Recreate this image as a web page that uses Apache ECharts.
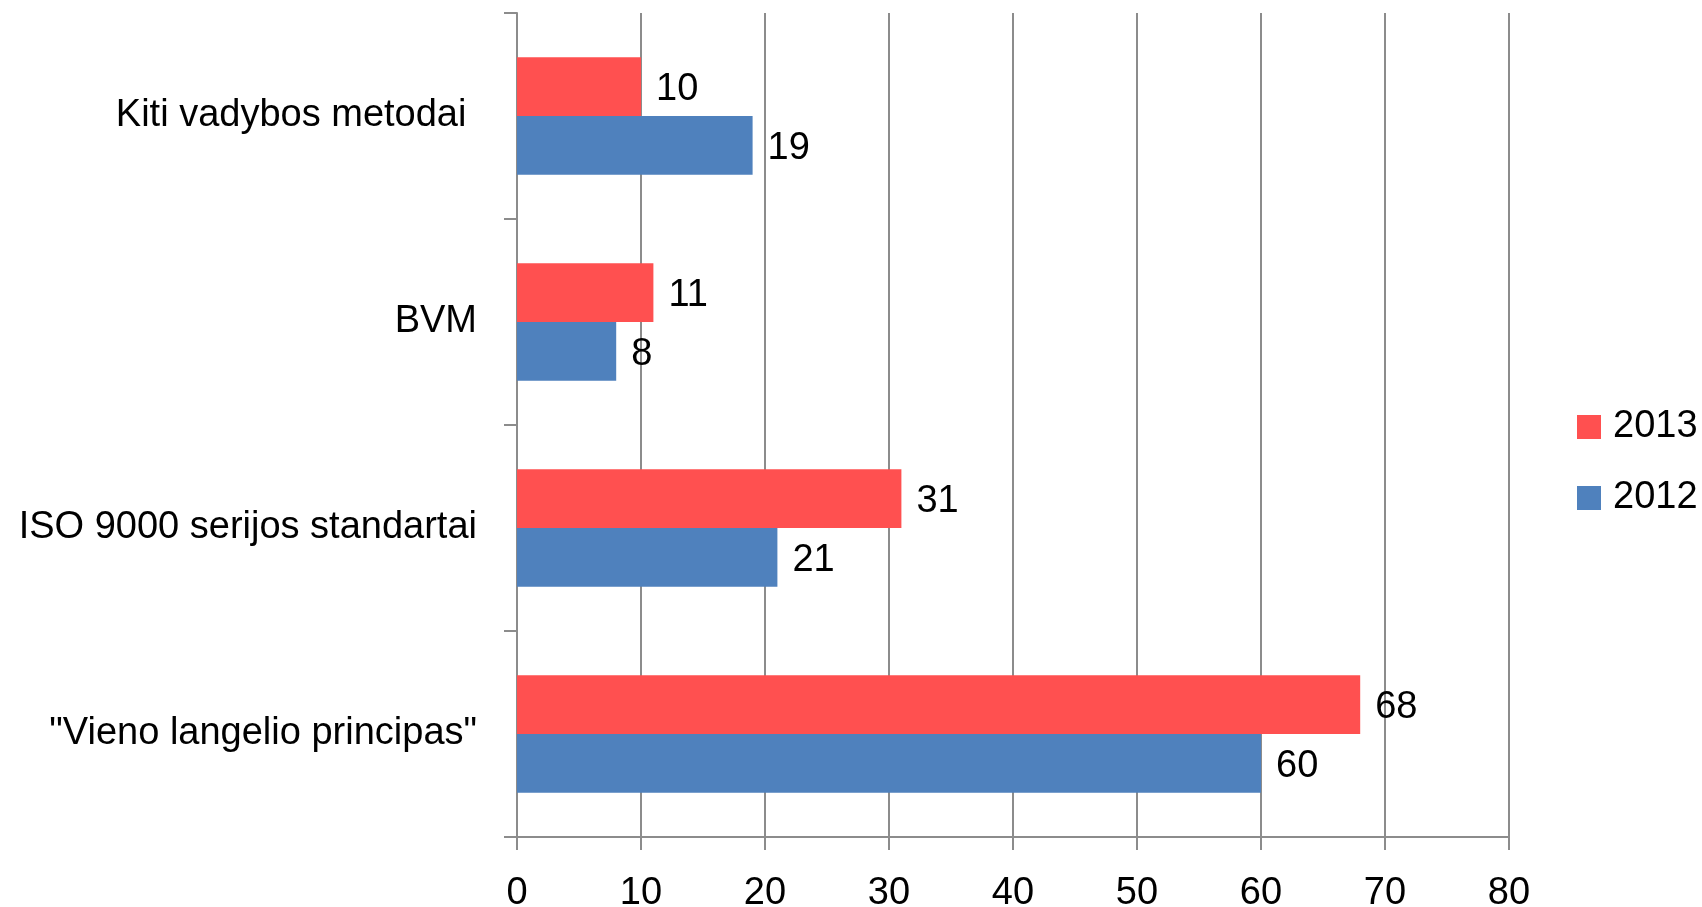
<!DOCTYPE html>
<html>
<head>
<meta charset="utf-8">
<script src="https://cdn.jsdelivr.net/npm/echarts@6/dist/echarts.min.js"></script>
<style>
html,body{margin:0;padding:0;background:#fff;}
#chart{width:1702px;height:907px;}
</style>
</head>
<body>
<div id="chart"></div>
<script>
const categories = ['"Vieno langelio principas"', 'ISO 9000 serijos standartai', 'BVM', 'Kiti vadybos metodai '];
const seriesNames = ['2013', '2012'];
const values2013 = [68, 31, 11, 10];
const values2012 = [60, 21, 8, 19];
const xTicks = { min: 0, max: 80, interval: 10 };

const FONT = 'Liberation Sans';
const GRAY = '#8c8c8c';
const chart = echarts.init(document.getElementById('chart'), null, { renderer: 'canvas' });
const labelStyle = { show: true, position: 'right', distance: 15, offset: [0, 3], color: '#000', fontFamily: FONT, fontSize: 38 };
chart.setOption({
  animation: false,
  backgroundColor: '#fff',
  textStyle: { fontFamily: FONT },
  grid: { left: 517, right: 193, top: 13, bottom: 70, containLabel: false, outerBoundsMode: 'none' },
  legend: {
    orient: 'vertical',
    left: 1577,
    top: 406,
    padding: 0,
    itemWidth: 24,
    itemHeight: 24,
    itemGap: 29,
    icon: 'rect',
    textStyle: { fontFamily: FONT, fontSize: 38, color: '#000', lineHeight: 38, padding: [4, 0, 0, 7] },
    data: seriesNames
  },
  xAxis: {
    type: 'value',
    min: xTicks.min,
    max: xTicks.max,
    interval: xTicks.interval,
    axisLine: { show: true, lineStyle: { color: GRAY, width: 2 } },
    axisTick: { show: true, length: 13, lineStyle: { color: GRAY, width: 2 } },
    splitLine: { show: true, lineStyle: { color: GRAY, width: 2 } },
    axisLabel: { color: '#000', fontFamily: FONT, fontSize: 38, margin: 38 }
  },
  yAxis: {
    type: 'category',
    data: categories,
    axisLine: { show: true, lineStyle: { color: GRAY, width: 2 } },
    axisTick: { show: true, length: 13, lineStyle: { color: GRAY, width: 2 } },
    axisLabel: { color: '#000', fontFamily: FONT, fontSize: 38, margin: 40, padding: [4, 0, 0, 0] }
  },
  series: [
    {
      name: seriesNames[0],
      type: 'bar',
      data: values2013,
      barGap: '0%',
      barCategoryGap: '43%',
      itemStyle: { color: '#ff5050' },
      label: labelStyle
    },
    {
      name: seriesNames[1],
      type: 'bar',
      data: values2012,
      barGap: '0%',
      barCategoryGap: '43%',
      itemStyle: { color: '#4f81bd' },
      label: labelStyle
    }
  ]
});
</script>
</body>
</html>
